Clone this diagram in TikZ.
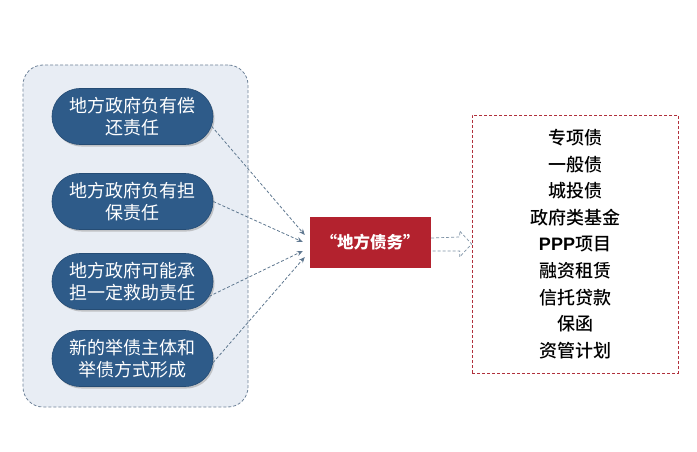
\documentclass[tikz,border=0pt]{standalone}
\usepackage{fontspec}
\newfontfamily\cjk{Noto Sans CJK SC}
\newfontfamily\cjkm{Noto Sans CJK SC Medium}
\newfontfamily\latinb{Liberation Sans Bold}
\usetikzlibrary{shapes.misc,shadows,arrows.meta,calc}
\definecolor{contfill}{HTML}{E8EDF4}
\definecolor{contline}{HTML}{6F8399}
\definecolor{pillblue}{HTML}{2E5B89}
\definecolor{pillline}{HTML}{254C74}
\definecolor{redfill}{HTML}{B3222E}
\definecolor{redline}{HTML}{B0303C}
\definecolor{conn}{HTML}{5F7890}
\begin{document}
\begin{tikzpicture}[x=1pt,y=-1pt,
  container/.style={draw=contline,fill=contfill,dash pattern=on 3pt off 2pt,line width=0.8pt,rounded corners=20pt,minimum width=225pt,minimum height=342pt},
  pill/.style={rounded rectangle,fill=pillblue,draw=pillline,line width=0.6pt,minimum width=161pt,minimum height=56pt,inner sep=0pt,
    text=white,font=\cjk\fontsize{18}{22.5}\selectfont,align=center,
    drop shadow={shadow xshift=1.5pt,shadow yshift=-2pt,fill=black!35,opacity=0.6}},
  redbox/.style={fill=redfill,draw=redfill,minimum width=120pt,minimum height=50pt,text=white,font=\cjk\bfseries\fontsize{16.5}{20}\selectfont},
  listbox/.style={draw=redline,densely dashed,line width=0.7pt,minimum width=206pt,minimum height=258pt,align=center,
    font=\cjkm\fontsize{18}{26.6}\selectfont},
  connector/.style={draw=conn,densely dashed,line width=0.8pt,-{Stealth[length=6pt,width=5pt]}},
  bigarrow/.style={draw=conn!80,fill=white,densely dashed,line width=0.7pt,line join=miter}]
\useasboundingbox (0,0) rectangle (697,452);
\fill[white] (0,0) rectangle (697,452);
\node[container] (box) at (135.5,236) {};
\node[pill] (p1) at (132.5,116.5) {地方政府负有偿\\还责任};
\node[pill] (p2) at (132.5,201.5) {地方政府负有担\\保责任};
\node[pill] (p3) at (132.5,281.5) {地方政府可能承\\担一定救助责任};
\node[pill] (p4) at (132.5,358.5) {新的举债主体和\\举债方式形成};
\node[redbox] (r) at (370,242) {“地方债务”};
\node[listbox] (l) at (575,244) {专项债\\一般债\\城投债\\政府类基金\\{\latinb PPP}项目\\融资租赁\\信托贷款\\保函\\资管计划};
\coordinate (t1) at ($(r.west)+(-5,-7)$);
\coordinate (t2) at ($(r.west)+(-7,0)$);
\coordinate (t3) at ($(r.west)+(-7,9)$);
\coordinate (t4) at ($(r.west)+(-5,15)$);
\draw[connector] (p1.-7) -- (t1);
\draw[connector] (p2.east) -- (t2);
\draw[connector] (p3.-11) -- (t3);
\draw[connector] (p4.-3) -- (t4);
\draw[bigarrow] ($(r.east)+(1,-4)$) -- ($(l.west)+(-12,-7)$) -- ($(l.west)+(-12,-13)$) -- (l.west)
  -- ($(l.west)+(-12,13)$) -- ($(l.west)+(-12,7)$) -- ($(r.east)+(1,9)$);
\end{tikzpicture}
\end{document}
